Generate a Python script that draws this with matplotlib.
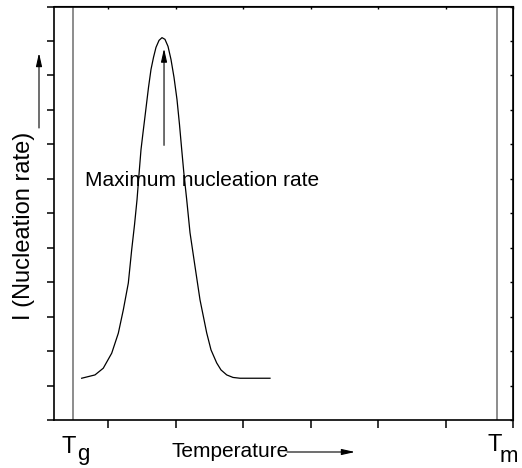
import matplotlib
matplotlib.use("Agg")
import matplotlib.pyplot as plt
from matplotlib.patches import FancyArrowPatch

# ---- data ----
temp = [0.610, 0.807, 0.930, 1.055, 1.153, 1.227, 1.301, 1.351, 1.393, 1.430,
        1.459, 1.489, 1.519, 1.548, 1.600, 1.637, 1.674, 1.711, 1.756, 1.800,
        1.844, 1.889, 1.933, 1.978, 2.022, 2.059, 2.092, 2.126, 2.166, 2.215,
        2.289, 2.363, 2.462, 2.526, 2.610, 2.674, 2.759, 2.852, 2.956, 3.400]
rate = [1.212, 1.308, 1.503, 1.939, 2.520, 3.198, 3.974, 4.942, 5.669, 6.395,
        7.122, 7.849, 8.343, 8.808, 9.651, 10.174, 10.523, 10.814, 11.017, 11.096,
        11.047, 10.843, 10.465, 9.942, 9.302, 8.576, 7.849, 7.122, 6.395, 5.436,
        4.456, 3.488, 2.529, 2.035, 1.657, 1.453, 1.308, 1.235, 1.212, 1.212]
t_g = 0.48
t_m = 6.77
peak_x = 1.83
peak_arrow_y = [7.97, 10.78]
x_ticks = [1, 2, 3, 4, 5, 6, 7]
y_ticks = list(range(0, 13))
ylabel = "I (Nucleation rate)"
xlabel = "Temperature"
annot = "Maximum nucleation rate"

plt.rcParams["font.family"] = ["Liberation Sans", "DejaVu Sans"]

fig = plt.figure(figsize=(5.22, 4.68), dpi=100)
ax = fig.add_axes([54/522, 1-420/468, (513-54)/522, (420-6.5)/468])
ax.set_xlim(0.2, 7.0)
ax.set_ylim(0, 12)

ax.plot(temp, rate, color="black", lw=0.9, solid_joinstyle="round")
ax.axvline(t_g, color="#6e6e6e", lw=1.1)
ax.axvline(t_m, color="#6e6e6e", lw=1.1)

for s in ax.spines.values():
    s.set_linewidth(1.2)

ax.set_xticks(x_ticks)
ax.set_yticks(y_ticks)
ax.tick_params(axis="x", direction="out", length=6, width=1.1, labelbottom=False)
ax.tick_params(axis="y", direction="out", length=5, width=1.1, labelleft=False)

secx = ax.secondary_xaxis("top")
secx.set_xticks(x_ticks)
secx.tick_params(direction="in", length=2, width=1.0, labeltop=False)
secy = ax.secondary_yaxis("right")
secy.set_yticks(y_ticks)
secy.tick_params(direction="in", length=2, width=1.0, labelright=False)

ARROW = "-|>,head_length=0.8,head_width=0.18"

# peak arrow + annotation
ax.annotate("", xy=(peak_x, peak_arrow_y[1]), xytext=(peak_x, peak_arrow_y[0]),
            arrowprops=dict(arrowstyle=ARROW, color="black", lw=0.8,
                            shrinkA=0, shrinkB=0, mutation_scale=10))
ax.text(0.66, 6.80, annot, fontsize=15, ha="left", va="baseline")

# axis labels with arrows
fig.text(24/522, 1-226/468, ylabel, rotation=90, fontsize=17, ha="center", va="center")
fig.patches.append(FancyArrowPatch(
    (39/522, 1-128/468), (39/522, 1-53/468), transform=fig.transFigure,
    arrowstyle=ARROW, mutation_scale=10, color="black", lw=0.8, shrinkA=0, shrinkB=0))
fig.text(172/522, 1-457/468, xlabel, fontsize=15, ha="left", va="baseline")
fig.patches.append(FancyArrowPatch(
    (287/522, 1-452/468), (355/522, 1-452/468), transform=fig.transFigure,
    arrowstyle=ARROW, mutation_scale=10, color="black", lw=0.8, shrinkA=0, shrinkB=0))

# T_g and T_m labels
fig.text(62/522, 1-453/468, "T", fontsize=17, ha="left", va="baseline")
fig.text(77/522, 1-460/468, "g", fontsize=16, ha="left", va="baseline")
fig.text(488/522, 1-451/468, "T", fontsize=17, ha="left", va="baseline")
fig.text(500/522, 1-462/468, "m", fontsize=16, ha="left", va="baseline")

fig.savefig("out.png", dpi=100)
